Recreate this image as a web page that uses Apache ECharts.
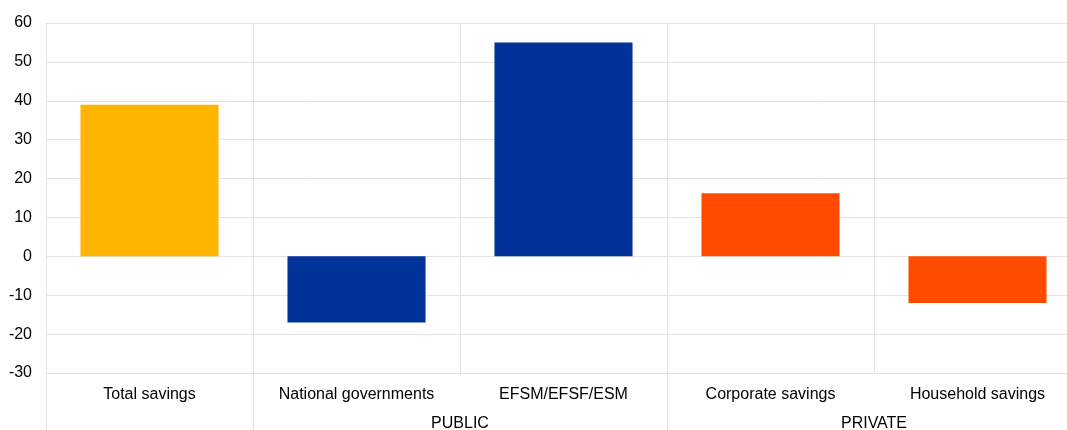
<!DOCTYPE html>
<html>
<head>
<meta charset="utf-8">
<script src="https://cdn.jsdelivr.net/npm/echarts@6/dist/echarts.min.js"></script>
<style>
  html, body { margin: 0; padding: 0; background: #fff; }
  #wrap { position: absolute; left: 0; top: 0; width: 1067px; height: 430px; overflow: hidden; }
  /* plot runs past the right edge of the picture, as in the original */
  #main { position: absolute; left: 0; top: 0; width: 1081px; height: 430px; }
</style>
</head>
<body>
<div id="wrap"><div id="main"></div></div>
<script>
var categories = ["Total savings", "National governments", "EFSM/EFSF/ESM", "Corporate savings", "Household savings"];
var values = [39, -17, 55, 16.2, -12];
var barColors = ["#ffb400", "#003299", "#003299", "#ff4b00", "#ff4b00"];
// group labels sit on category boundaries (value axis 0..5)
var groupLabels = { 2: "PUBLIC", 4: "PRIVATE" };
var groupSeparators = [0, 1, 3];

var gridColor = "#e3e3e3";
var textStyle = { color: "#000", fontFamily: "Liberation Sans, Arial", fontSize: 16 };

var myChart = echarts.init(document.getElementById("main"));
var option = {
  animation: false,
  grid: { left: 46, right: 0, top: 23, bottom: 57, containLabel: false, outerBoundsMode: "none" },
  xAxis: [
    {
      type: "category",
      data: categories,
      position: "bottom",
      axisLine: { show: true, onZero: false, lineStyle: { color: gridColor, width: 1 } },
      axisTick: {
        show: true,
        length: 58,
        interval: function (index) { return groupSeparators.indexOf(index) >= 0; },
        lineStyle: { color: gridColor, width: 1 },
      },
      splitLine: { show: true, lineStyle: { color: gridColor, width: 1 } },
      axisLabel: Object.assign({ margin: 14, interval: 0 }, textStyle),
    },
    {
      type: "value",
      min: 0,
      max: 5,
      interval: 1,
      position: "bottom",
      axisLine: { show: false },
      splitLine: { show: false },
      axisTick: { show: false },
      axisLabel: Object.assign({
        margin: 43,
        customValues: [2, 4],
        formatter: function (v) { return groupLabels[v] || ""; },
      }, textStyle),
    },
  ],
  yAxis: {
    type: "value",
    min: -30,
    max: 60,
    interval: 10,
    axisLine: { show: false },
    axisTick: { show: false },
    splitLine: { show: true, lineStyle: { color: gridColor, width: 1 } },
    axisLabel: Object.assign({ margin: 14 }, textStyle),
  },
  series: [
    {
      type: "bar",
      xAxisIndex: 0,
      barWidth: "66.7%",
      data: values.map(function (v, i) {
        return { value: v, itemStyle: { color: barColors[i] } };
      }),
    },
  ],
};
myChart.setOption(option);
</script>
</body>
</html>
